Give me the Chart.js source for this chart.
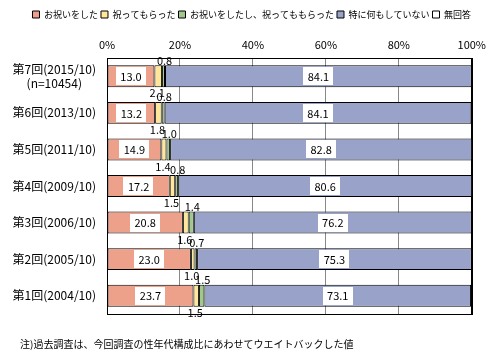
<!DOCTYPE html>
<html>
<head>
<meta charset="utf-8">
<script src="https://cdn.jsdelivr.net/npm/chart.js@4/dist/chart.umd.min.js"></script>
<style>
  html, body { margin:0; padding:0; background:#fff; }
  #wrap { position:relative; width:493px; height:364px; }
  #note { position:absolute; left:20px; top:336px; font-family:'Noto Sans CJK JP', sans-serif; font-size:10px; color:#000; white-space:nowrap; }
</style>
</head>
<body>
<div id="wrap">
  <canvas id="chart" width="493" height="364"></canvas>
  <div id="note">注)過去調査は、今回調査の性年代構成比にあわせてウエイトバックした値</div>
</div>
<script>
const rounds = [
  ["第7回(2015/10)", "(n=10454)"],
  "第6回(2013/10)",
  "第5回(2011/10)",
  "第4回(2009/10)",
  "第3回(2006/10)",
  "第2回(2005/10)",
  "第1回(2004/10)"
]
const seriesNames = ["お祝いをした", "祝ってもらった", "お祝いをしたし、祝ってももらった", "特に何もしていない", "無回答"]
const celebrated = [13.0, 13.2, 14.9, 17.2, 20.8, 23.0, 23.7]
const received   = [2.1, 1.8, 1.4, 1.5, 1.6, 1.0, 1.5]
const both       = [0.8, 0.8, 1.0, 0.8, 1.4, 0.7, 1.5]
const nothing    = [84.1, 84.1, 82.8, 80.6, 76.2, 75.3, 73.1]
const noAnswer   = [0.0, 0.1, 0.0, 0.0, 0.0, 0.0, 0.2]
const xTicks = [0, 20, 40, 60, 80, 100]

const colors = ["#EDA08A", "#FFE69A", "#A0C88C", "#99A2C8", "#FFFFFF"]
const allData = [celebrated, received, both, nothing, noAnswer]

Chart.defaults.font.family = "'Noto Sans CJK JP', sans-serif"
Chart.defaults.color = "#000"

// labels: boxed for big segments, above/below for small ones
const valueLabels = {
  id: "valueLabels",
  afterDatasetsDraw(chart){
    const ctx = chart.ctx
    ctx.save()
    ctx.font = "11px 'Noto Sans CJK JP', sans-serif"
    ctx.textAlign = "center"
    ctx.textBaseline = "middle"
    chart.data.datasets.forEach(function(ds, di){
      if(di == 4) return
      const meta = chart.getDatasetMeta(di)
      meta.data.forEach(function(bar, i){
        const v = ds.data[i]
        const txt = v.toFixed(1)
        const cx = (bar.x + bar.base) / 2
        const top = bar.y - bar.height / 2
        const bottom = bar.y + bar.height / 2
        if(di == 0 || di == 3){
          const w = ctx.measureText(txt).width + 9
          ctx.fillStyle = "#fff"
          ctx.fillRect(Math.round(cx - w/2), Math.round(bar.y - 9), Math.round(w), 18)
          ctx.fillStyle = "#000"
          ctx.fillText(txt, cx, bar.y + 0.5)
        } else if(di == 2){
          ctx.fillStyle = "#000"
          ctx.fillText(txt, cx + 1, top - 5)
        } else {
          ctx.fillStyle = "#000"
          ctx.fillText(txt, cx - 1, bottom + 6)
        }
      })
    })
    ctx.restore()
  }
}

const frame = {
  id: "frame",
  afterDraw(chart){
    const a = chart.chartArea
    const ctx = chart.ctx
    ctx.save()
    ctx.strokeStyle = "#000"
    ctx.lineWidth = 1
    ctx.strokeRect(Math.round(a.left) + 0.5, Math.round(a.top) + 0.5, Math.round(a.right - a.left), Math.round(a.bottom - a.top))
    ctx.restore()
  }
}

new Chart(document.getElementById("chart"), {
  type: "bar",
  data: {
    labels: rounds,
    datasets: seriesNames.map(function(name, i){
      return {
        label: name,
        data: allData[i],
        backgroundColor: colors[i],
        borderColor: "#000",
        borderWidth: 1,
        borderSkipped: false,
        barPercentage: 0.6,
        categoryPercentage: 1.0
      }
    })
  },
  options: {
    indexAxis: "y",
    responsive: false,
    animation: false,
    layout: { padding: { top: 7, bottom: 50, right: 19, left: 0 } },
    plugins: {
      legend: {
        position: "top",
        align: "end",
        labels: {
          boxWidth: 7,
          boxHeight: 7,
          padding: 3,
          font: { size: 9 }
        }
      },
      tooltip: { enabled: false }
    },
    scales: {
      x: {
        position: "top",
        stacked: true,
        min: 0,
        max: 100,
        afterBuildTicks: function(scale){ scale.ticks = xTicks.map(v => ({value: v})) },
        afterFit: function(scale){ scale.height = 29 },
        ticks: {
          callback: v => v + "%",
          font: { size: 11 },
          padding: 7
        },
        grid: {
          drawTicks: false,
          color: function(c){ return (c.tick && (c.tick.value == 0 || c.tick.value == 100)) ? "#000" : "#888" }
        },
        border: { display: true, color: "#000" }
      },
      y: {
        stacked: true,
        afterFit: function(scale){ scale.width = 107 },
        ticks: {
          crossAlign: "center",
          padding: 11,
          font: { size: 12 }
        },
        grid: { display: false, drawTicks: false },
        border: { display: true, color: "#000" }
      }
    }
  },
  plugins: [valueLabels, frame]
})
</script>
</body>
</html>
